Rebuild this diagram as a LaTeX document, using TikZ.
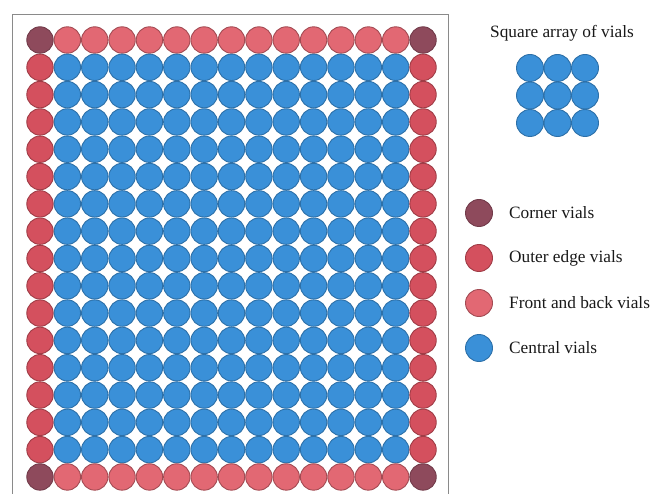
\documentclass[tikz,border=0pt]{standalone}
\usepackage{fontspec}
\setmainfont{Liberation Serif}
\definecolor{cornerc}{HTML}{8E4A5C}
\definecolor{edgec}{HTML}{D4505E}
\definecolor{frontc}{HTML}{E26873}
\definecolor{centralc}{HTML}{3A90D8}
\definecolor{framec}{HTML}{8A8A8A}
\tikzset{
  vial/.style={line width=0.9pt},
  cornervial/.style={vial, fill=cornerc, draw=cornerc!80!black},
  edgevial/.style={vial, fill=edgec, draw=edgec!75!black},
  frontvial/.style={vial, fill=frontc, draw=frontc!72!black},
  centralvial/.style={vial, fill=centralc, draw=centralc!78!black},
  legendtext/.style={font=\fontsize{17.3}{20}\selectfont, text=black!90, anchor=west, inner sep=0pt}
}
\begin{document}
\begin{tikzpicture}[x=1pt,y=-1pt]
\useasboundingbox (0,0) rectangle (655,494);
\fill[white] (0,0) rectangle (655,494);
% frame
\draw[framec, line width=1pt] (12,494) -- (12,15) -- (448,15) -- (448,494);
% grid 15 x 17
\foreach \i in {0,...,14} {
  \foreach \j in {0,...,16} {
    \pgfmathsetmacro{\xx}{40+27.36*\i}
    \pgfmathsetmacro{\yy}{40+27.31*\j}
    \ifnum\i=0
      \ifnum\j=0 \def\st{cornervial}\else\ifnum\j=16 \def\st{cornervial}\else\def\st{edgevial}\fi\fi
    \else\ifnum\i=14
      \ifnum\j=0 \def\st{cornervial}\else\ifnum\j=16 \def\st{cornervial}\else\def\st{edgevial}\fi\fi
    \else
      \ifnum\j=0 \def\st{frontvial}\else\ifnum\j=16 \def\st{frontvial}\else\def\st{centralvial}\fi\fi
    \fi\fi
    \path[\st] (\xx,\yy) circle (13.2);
  }
}
% legend: square array
\node[legendtext, anchor=center] (sqtitle) at (562,33) {Square array of vials};
\foreach \i in {0,1,2} {
  \foreach \j in {0,1,2} {
    \path[centralvial] (530+27.5*\i,68+27.5*\j) circle (13.5);
  }
}
% legend items
\path[cornervial] (479,213) circle (13.5);
\node[legendtext] (lcorner) at (509,213) {Corner vials};
\path[edgevial] (479,258) circle (13.5);
\node[legendtext] (ledge) at (509,258) {Outer edge vials};
\path[frontvial] (479,303) circle (13.5);
\node[legendtext] (lfront) at (509,303) {Front and back vials};
\path[centralvial] (479,348) circle (13.5);
\node[legendtext] (lcentral) at (509,348) {Central vials};
\end{tikzpicture}
\end{document}
